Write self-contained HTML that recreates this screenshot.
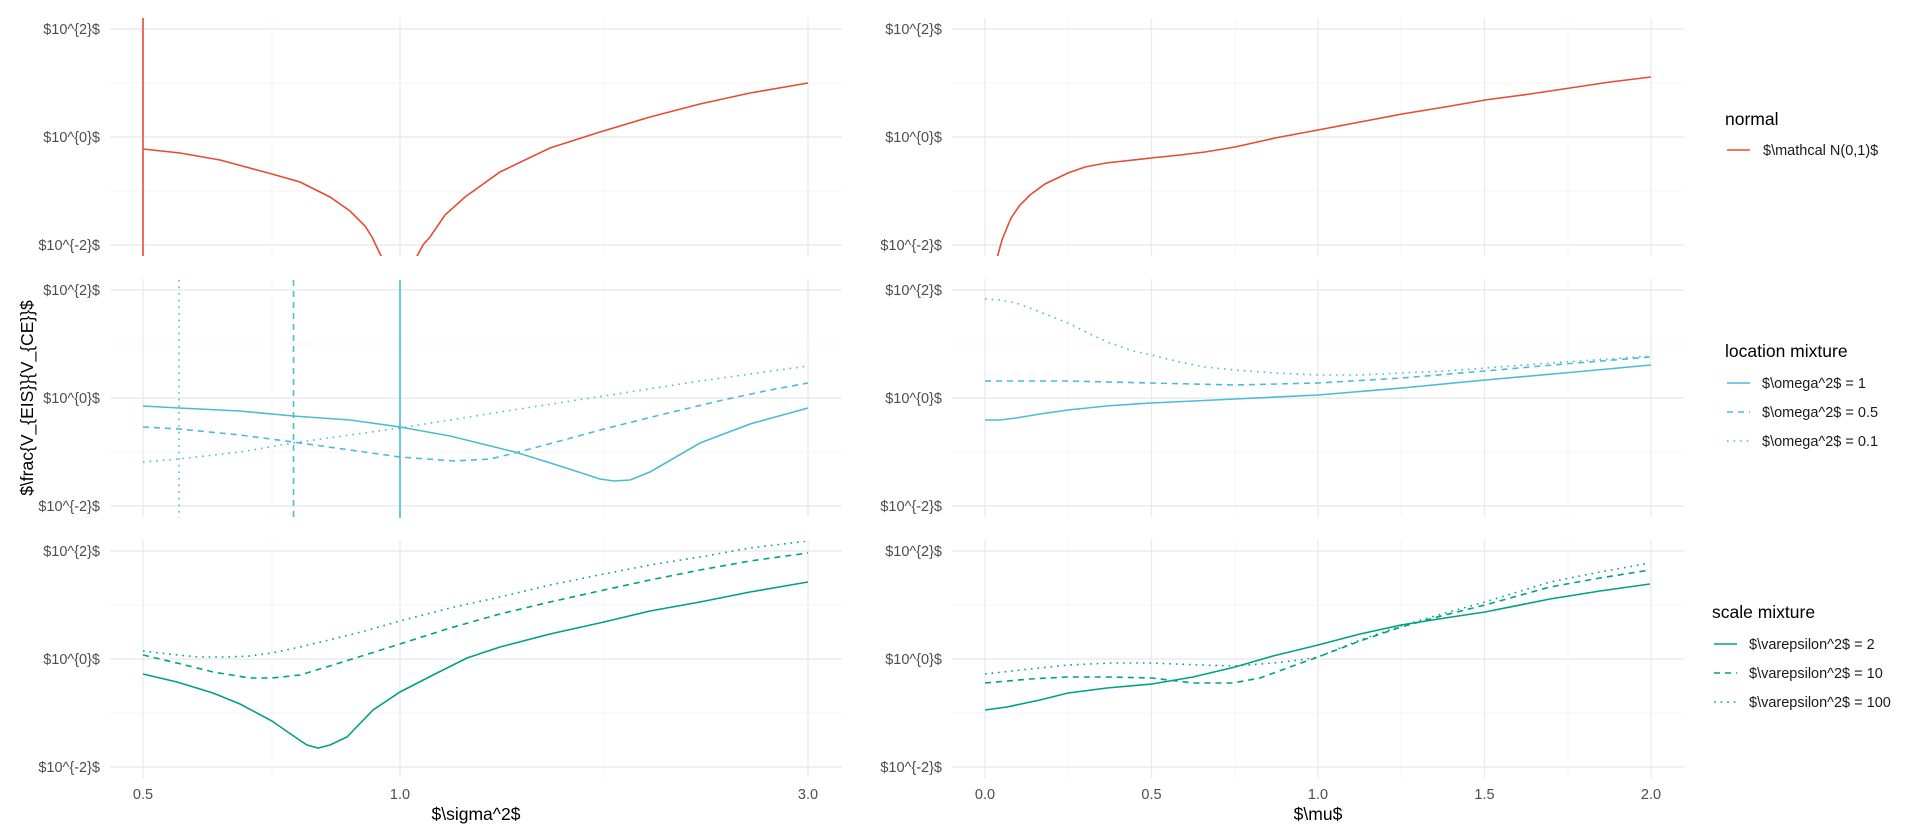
<!DOCTYPE html>
<html><head><meta charset="utf-8"><style>
html,body{margin:0;padding:0;background:#fff;}
svg{display:block;font-family:"Liberation Sans",Arial,sans-serif;}
.maj{stroke:#EBEBEB;stroke-width:1.4;fill:none}
.min{stroke:#F2F2F2;stroke-width:0.8;fill:none}
.tk{fill:#4D4D4D;font-size:14.5px}
.ttl{fill:#000;font-size:17.5px}
.lg{fill:#1a1a1a;font-size:14.5px}
.r{stroke:#E64B35;stroke-width:1.6;fill:none}
.b{stroke:#4DBBD5;stroke-width:1.6;fill:none}
.g{stroke:#00A087;stroke-width:1.6;fill:none}
.da{stroke-dasharray:6 5}
.do{stroke-dasharray:1.6 5}
</style></head><body>
<svg width="1920" height="840" viewBox="0 0 1920 840" xmlns="http://www.w3.org/2000/svg">
<defs>
<g id="gl">
<!-- left panel vertical grid -->
<line class="min" x1="272" x2="272" y1="0" y2="238"/>
<line class="min" x1="604" x2="604" y1="0" y2="238"/>
<line class="maj" x1="143" x2="143" y1="0" y2="238"/>
<line class="maj" x1="400" x2="400" y1="0" y2="238"/>
<line class="maj" x1="808" x2="808" y1="0" y2="238"/>
<line class="min" x1="110" x2="842" y1="65" y2="65"/>
<line class="min" x1="110" x2="842" y1="173" y2="173"/>
<line class="maj" x1="110" x2="842" y1="11" y2="11"/>
<line class="maj" x1="110" x2="842" y1="119" y2="119"/>
<line class="maj" x1="110" x2="842" y1="227" y2="227"/>
<text class="tk" x="100" y="16" text-anchor="end">$10^{2}$</text>
<text class="tk" x="100" y="124" text-anchor="end">$10^{0}$</text>
<text class="tk" x="100" y="232" text-anchor="end">$10^{-2}$</text>
</g>
<g id="gr">
<line class="min" x1="1068" x2="1068" y1="0" y2="238"/>
<line class="min" x1="1235" x2="1235" y1="0" y2="238"/>
<line class="min" x1="1401" x2="1401" y1="0" y2="238"/>
<line class="min" x1="1568" x2="1568" y1="0" y2="238"/>
<line class="maj" x1="985" x2="985" y1="0" y2="238"/>
<line class="maj" x1="1151.5" x2="1151.5" y1="0" y2="238"/>
<line class="maj" x1="1318" x2="1318" y1="0" y2="238"/>
<line class="maj" x1="1484.5" x2="1484.5" y1="0" y2="238"/>
<line class="maj" x1="1651" x2="1651" y1="0" y2="238"/>
<line class="min" x1="952" x2="1684" y1="65" y2="65"/>
<line class="min" x1="952" x2="1684" y1="173" y2="173"/>
<line class="maj" x1="952" x2="1684" y1="11" y2="11"/>
<line class="maj" x1="952" x2="1684" y1="119" y2="119"/>
<line class="maj" x1="952" x2="1684" y1="227" y2="227"/>
<text class="tk" x="942" y="16" text-anchor="end">$10^{2}$</text>
<text class="tk" x="942" y="124" text-anchor="end">$10^{0}$</text>
<text class="tk" x="942" y="232" text-anchor="end">$10^{-2}$</text>
</g>
<clipPath id="c1"><rect x="110" y="18" width="732" height="238"/></clipPath>
<clipPath id="c2"><rect x="110" y="280" width="732" height="238"/></clipPath>
<clipPath id="c3"><rect x="110" y="541" width="732" height="238"/></clipPath>
<clipPath id="c4"><rect x="952" y="18" width="732" height="238"/></clipPath>
<clipPath id="c5"><rect x="952" y="280" width="732" height="238"/></clipPath>
<clipPath id="c6"><rect x="952" y="541" width="732" height="238"/></clipPath>
</defs>

<use href="#gl" transform="translate(0,18)"/>
<use href="#gl" transform="translate(0,279)"/>
<use href="#gl" transform="translate(0,540)"/>
<use href="#gr" transform="translate(0,18)"/>
<use href="#gr" transform="translate(0,279)"/>
<use href="#gr" transform="translate(0,540)"/>

<!-- Panel 1 left -->
<g clip-path="url(#c1)">
<line class="r" x1="143" x2="143" y1="18" y2="256"/>
<polyline class="r" points="143,149 180,153 220,160 272,174 300,182 330,197 350,211 365,226 372,237 382,258"/>
<polyline class="r" points="416,258 423,245 430,237 445,215 465,197 500,172 550,148 600,132 650,117 700,104 750,93 808,83"/>
</g>
<!-- Panel 1 right -->
<g clip-path="url(#c4)">
<polyline class="r" points="997,258 1002,240 1011,218 1020,205 1030,195 1045,184 1068,173 1085,167 1106,163 1151,158 1180,155 1205,152 1235,147 1275,138 1318,130 1360,122 1402,114 1445,107 1485,100 1530,94 1570,88 1610,82 1651,77"/>
</g>

<!-- Panel 2 left -->
<g clip-path="url(#c2)">
<line class="b do" x1="179" x2="179" y1="280" y2="518"/>
<line class="b da" x1="293.5" x2="293.5" y1="280" y2="518"/>
<line class="b" x1="400" x2="400" y1="280" y2="518"/>
<polyline class="b" points="143,406 179,408 240,411 293,416 350,420 400,427 450,436 515,452 560,466 600,479 614,481 630,480 650,472 700,443 750,424 808,408"/>
<polyline class="b da" points="143,427 179,429 240,435 293,442 350,450 400,457 454,461 490,459 515,453 560,441 604,429 660,415 723,400 770,390 808,383"/>
<polyline class="b do" points="143,462 179,459 240,452 293,443 350,435 400,428 500,412 604,396 700,381 808,366"/>
</g>
<!-- Panel 2 right -->
<g clip-path="url(#c5)">
<polyline class="b" points="985,420 1000,420 1016,418 1040,414 1068,410 1106,406 1151,403 1235,399 1318,395 1402,388 1485,380 1564,373 1651,365"/>
<polyline class="b da" points="985,381 1068,381 1110,382 1151,383 1235,385 1318,383 1402,378 1485,371 1564,364 1651,357"/>
<polyline class="b do" points="985,299 1000,300 1016,303 1040,312 1068,323 1090,334 1110,343 1130,350 1151,355 1180,362 1205,367 1235,370 1275,373 1318,375 1360,375 1402,373 1445,371 1485,368 1564,362 1651,356"/>
</g>

<!-- Panel 3 left -->
<g clip-path="url(#c3)">
<polyline class="g" points="143,674 177,682 213,693 240,704 272,721 295,737 307,745 318,748 330,745 347,737 373,710 400,692 433,675 467,658 500,647 550,634 604,622 650,611 700,602 750,592 808,582"/>
<polyline class="g da" points="143,655 177,663 213,672 250,678 272,678 300,675 333,665 365,655 400,644 450,628 500,614 550,602 604,590 650,580 700,570 750,561 808,553"/>
<polyline class="g do" points="143,651 177,655 200,657 227,657 250,656 272,653 300,647 333,639 365,631 400,621 450,608 500,597 550,585 604,574 650,565 700,557 750,548 808,541"/>
</g>
<!-- Panel 3 right -->
<g clip-path="url(#c6)">
<polyline class="g" points="985,710 1007,707 1040,700 1068,693 1107,688 1152,684 1193,677 1235,667 1273,656 1318,645 1360,634 1401,625 1445,618 1485,612 1550,599 1600,591 1650,584"/>
<polyline class="g da" points="985,683 1030,679 1068,677 1107,677 1152,678 1193,683 1233,683 1260,678 1290,667 1318,657 1360,641 1401,627 1445,615 1485,605 1550,587 1600,578 1650,570"/>
<polyline class="g do" points="985,674 1030,669 1068,665 1110,663 1152,663 1200,665 1235,666 1273,663 1300,660 1318,657 1360,640 1401,626 1445,613 1485,602 1550,582 1600,572 1650,563"/>
</g>

<!-- x tick labels -->
<text class="tk" x="143" y="799" text-anchor="middle">0.5</text>
<text class="tk" x="400" y="799" text-anchor="middle">1.0</text>
<text class="tk" x="808" y="799" text-anchor="middle">3.0</text>
<text class="tk" x="985" y="799" text-anchor="middle">0.0</text>
<text class="tk" x="1151.5" y="799" text-anchor="middle">0.5</text>
<text class="tk" x="1318" y="799" text-anchor="middle">1.0</text>
<text class="tk" x="1484.5" y="799" text-anchor="middle">1.5</text>
<text class="tk" x="1651" y="799" text-anchor="middle">2.0</text>

<!-- axis titles -->
<text class="ttl" x="476" y="820" text-anchor="middle">$\sigma^2$</text>
<text class="ttl" x="1318" y="820" text-anchor="middle">$\mu$</text>
<text class="ttl" transform="translate(33,398) rotate(-90)" text-anchor="middle">$\frac{V_{EIS}}{V_{CE}}$</text>

<!-- legends -->
<text class="ttl" x="1725" y="125">normal</text>
<line class="r" x1="1727" x2="1750" y1="150" y2="150"/>
<text class="lg" x="1763" y="155">$\mathcal N(0,1)$</text>

<text class="ttl" x="1725" y="357">location mixture</text>
<line class="b" x1="1727" x2="1750" y1="383" y2="383"/>
<text class="lg" x="1762" y="388">$\omega^2$ = 1</text>
<line class="b da" x1="1727" x2="1750" y1="412" y2="412"/>
<text class="lg" x="1762" y="417">$\omega^2$ = 0.5</text>
<line class="b do" x1="1727" x2="1750" y1="441" y2="441"/>
<text class="lg" x="1762" y="446">$\omega^2$ = 0.1</text>

<text class="ttl" x="1712" y="618">scale mixture</text>
<line class="g" x1="1714" x2="1737" y1="644" y2="644"/>
<text class="lg" x="1749" y="649">$\varepsilon^2$ = 2</text>
<line class="g da" x1="1714" x2="1737" y1="673" y2="673"/>
<text class="lg" x="1749" y="678">$\varepsilon^2$ = 10</text>
<line class="g do" x1="1714" x2="1737" y1="702" y2="702"/>
<text class="lg" x="1749" y="707">$\varepsilon^2$ = 100</text>
</svg>
</body></html>
